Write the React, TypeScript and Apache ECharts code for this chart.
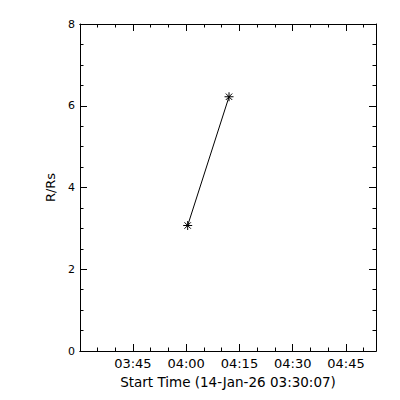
import React, { useEffect, useRef } from "react";
import * as echarts from "echarts";

// time of day in minutes (03:30:07 start)
const xStart = 210 + 7 / 60;
const xEnd = xStart + 5000 / 60;
const majorTicks = [225, 240, 255, 270, 285];
const minorTicks = [215, 220, 230, 235, 245, 250, 260, 265, 275, 280, 290];
const times = [240.43, 252.07];
const radii = [3.07, 6.22];
const xTitle = "Start Time (14-Jan-26 03:30:07)";
const yTitle = "R/Rs";

const fmt = (v: number) => {
  const m = Math.round(v);
  const h = Math.floor(m / 60);
  const mm = m % 60;
  return `${String(h).padStart(2, "0")}:${String(mm).padStart(2, "0")}`;
};

const FONT = "DejaVu Sans";

export default function App() {
  const ref = useRef<HTMLDivElement>(null);
  useEffect(() => {
    if (!ref.current) return;
    const chart = echarts.init(ref.current, undefined, { renderer: "svg" });
    const black = "#000";
    const baseX = (pos: "top" | "bottom", ticks: number[], len: number, labels: boolean, name?: string) => ({
      type: "value" as const,
      position: pos,
      min: xStart,
      max: xEnd,
      axisLine: { show: true, lineStyle: { color: black, width: 1 } },
      axisTick: { show: true, inside: true, length: len, customValues: ticks, lineStyle: { color: black, width: 1 } },
      axisLabel: labels
        ? { show: true, customValues: ticks, formatter: fmt, color: black, fontFamily: FONT, fontSize: 13, margin: 6 }
        : { show: false },
      splitLine: { show: false },
      name: name,
      nameLocation: "middle" as const,
      nameGap: 24,
      nameTextStyle: { color: black, fontFamily: FONT, fontSize: 13.5 },
    });
    const baseY = (pos: "left" | "right", labels: boolean) => ({
      type: "value" as const,
      position: pos,
      min: 0,
      max: 8,
      interval: 2,
      axisLine: { show: true, lineStyle: { color: black, width: 1 } },
      axisTick: { show: true, inside: true, length: 7, lineStyle: { color: black, width: 1 } },
      minorTick: { show: true, splitNumber: 4, length: 3.5, lineStyle: { color: black, width: 1 } },
      axisLabel: labels ? { show: true, color: black, fontFamily: FONT, fontSize: 11, margin: 5 } : { show: false },
      splitLine: { show: false },
      minorSplitLine: { show: false },
      name: labels ? yTitle : undefined,
      nameLocation: "middle" as const,
      nameGap: 18,
      nameTextStyle: { color: black, fontFamily: FONT, fontSize: 13 },
    });
    chart.setOption({
      animation: false,
      backgroundColor: "#fff",
      grid: { left: 80, top: 24, right: 24, bottom: 49, containLabel: false },
      xAxis: [
        baseX("bottom", majorTicks, 7, true, xTitle),
        baseX("bottom", minorTicks, 3.5, false),
        baseX("top", majorTicks, 7, false),
        baseX("top", minorTicks, 3.5, false),
      ],
      yAxis: [baseY("left", true), baseY("right", false)],
      series: [
        {
          type: "line",
          xAxisIndex: 0,
          yAxisIndex: 0,
          data: times.map((t, i) => [t, radii[i]]),
          symbol: "path://M0,-4.5L0,4.5M-4.5,0L4.5,0M-3.2,-3.2L3.2,3.2M-3.2,3.2L3.2,-3.2",
          symbolSize: 9,
          showAllSymbol: true,
          itemStyle: { color: black, borderColor: black, borderWidth: 1 },
          lineStyle: { color: black, width: 1 },
        },
      ],
    });
    return () => chart.dispose();
  }, []);
  return <div ref={ref} style={{ position: "absolute", left: 0, top: 0, width: 400, height: 400 }} />;
}
